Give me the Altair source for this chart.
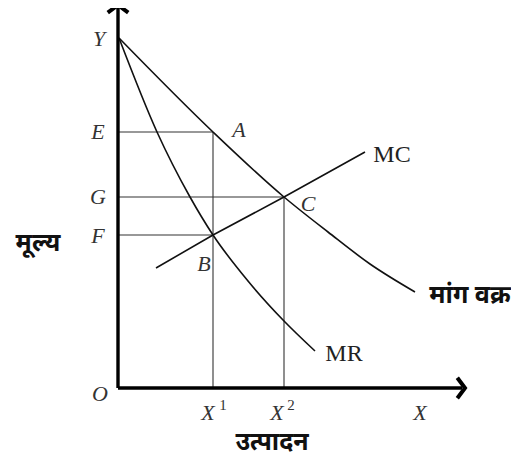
import altair as alt
import pandas as pd

# ---- data (units: O at origin) ----
demand_x = [1, 95, 166, 210, 252, 297]
demand_y = [350, 256, 191, 156, 124, 96]

mr_x = [1, 39, 72, 95, 130, 166, 197]
mr_y = [350, 256, 191, 153, 107, 67, 37]

mc_x = [38, 95, 166, 247]
mc_y = [120, 153, 191, 236]

# guide segments: (x1, y1, x2, y2)
guide_x1 = [0, 0, 0, 95, 166]
guide_y1 = [256, 191, 153, 0, 0]
guide_x2 = [95, 166, 95, 95, 166]
guide_y2 = [256, 191, 153, 256, 191]

axis_x1 = [0, 0]
axis_y1 = [0, 0]
axis_x2 = [0, 344]
axis_y2 = [381, 0]

arrow_x = [0, 347]
arrow_y = [383, 0]
arrow_shape = ["M-1,0.75 L0,0 L1,0.75", "M-0.75,-1 L0,0 L-0.75,1"]

lab_text = ["Y", "E", "A", "G", "C", "F", "B", "O", "X", "X", "X"]
lab_x = [-19, -20, 121, -20, 190, -20, 86, -18, 90, 159, 302]
lab_y = [349, 256, 258, 191, 184, 152, 124, -6, -25, -25, -25]
sup_text = ["1", "2"]
sup_x = [105, 173]
sup_y = [-17, -17]

curve_lab = ["MC", "MR"]
curve_lab_x = [274, 226]
curve_lab_y = [233, 34]

hindi_text = ["मांग वक्र", "मूल्य", "उत्पादन"]
hindi_x = [352, -80, 154]
hindi_y = [93, 145, -54]

XS = alt.Scale(domain=[-110, 393], nice=False, zero=False)
YS = alt.Scale(domain=[-68, 380], nice=False, zero=False)


def xe(f):
    return alt.X(f, type="quantitative", scale=XS, axis=None)


def ye(f):
    return alt.Y(f, type="quantitative", scale=YS, axis=None)


curves = pd.concat([
    pd.DataFrame({"x": demand_x, "y": demand_y, "s": "demand", "o": range(len(demand_x))}),
    pd.DataFrame({"x": mr_x, "y": mr_y, "s": "mr", "o": range(len(mr_x))}),
]).reset_index(drop=True)
mc = pd.DataFrame({"x": mc_x, "y": mc_y, "o": range(len(mc_x))})
guides = pd.DataFrame({"x": guide_x1, "y": guide_y1, "x2": guide_x2, "y2": guide_y2})
axes_df = pd.DataFrame({"x": axis_x1, "y": axis_y1, "x2": axis_x2, "y2": axis_y2})
arrows = pd.DataFrame({"x": arrow_x, "y": arrow_y, "shape": arrow_shape})
labs = pd.DataFrame({"x": lab_x, "y": lab_y, "t": lab_text})
sups = pd.DataFrame({"x": sup_x, "y": sup_y, "t": sup_text})
clabs = pd.DataFrame({"x": curve_lab_x, "y": curve_lab_y, "t": curve_lab})
hlabs = pd.DataFrame({"x": hindi_x, "y": hindi_y, "t": hindi_text})

guide_layer = alt.Chart(guides).mark_rule(color="#333333", strokeWidth=1.1).encode(
    x=xe("x"), y=ye("y"), x2="x2", y2="y2")

curve_layer = alt.Chart(curves).mark_line(color="#111111", strokeWidth=1.6, interpolate="monotone").encode(
    x=xe("x"), y=ye("y"), detail="s:N", order="o:Q")

mc_layer = alt.Chart(mc).mark_line(color="#111111", strokeWidth=1.6).encode(
    x=xe("x"), y=ye("y"), order="o:Q")

axis_layer = alt.Chart(axes_df).mark_rule(color="#000000", strokeWidth=3.4).encode(
    x=xe("x"), y=ye("y"), x2="x2", y2="y2")

arrow_layer = alt.Chart(arrows).mark_point(
    filled=False, color="#000000", strokeWidth=4, size=420, opacity=1, strokeJoin="miter"
).encode(x=xe("x"), y=ye("y"), shape=alt.Shape("shape:N", scale=None, legend=None))

lab_layer = alt.Chart(labs).mark_text(
    font="Liberation Serif", fontStyle="italic", fontSize=22, color="#333333",
    align="center", baseline="middle").encode(x=xe("x"), y=ye("y"), text="t:N")

sup_layer = alt.Chart(sups).mark_text(
    font="Liberation Serif", fontSize=15, color="#333333",
    align="center", baseline="middle").encode(x=xe("x"), y=ye("y"), text="t:N")

clab_layer = alt.Chart(clabs).mark_text(
    font="Liberation Serif", fontSize=24, color="#222222",
    align="center", baseline="middle").encode(x=xe("x"), y=ye("y"), text="t:N")

hlab_layer = alt.Chart(hlabs).mark_text(
    font="Noto Sans", fontSize=25, fontWeight="bold", color="#111111",
    align="center", baseline="middle").encode(x=xe("x"), y=ye("y"), text="t:N")

chart = alt.layer(
    guide_layer, curve_layer, mc_layer, axis_layer, arrow_layer,
    lab_layer, sup_layer, clab_layer, hlab_layer
).properties(
    width=503, height=448, autosize=alt.AutoSizeParams(type="none"), padding=0,
    background="white"
).configure_view(stroke=None)

chart.save("out.html", embed_options={"renderer": "svg", "actions": False})
